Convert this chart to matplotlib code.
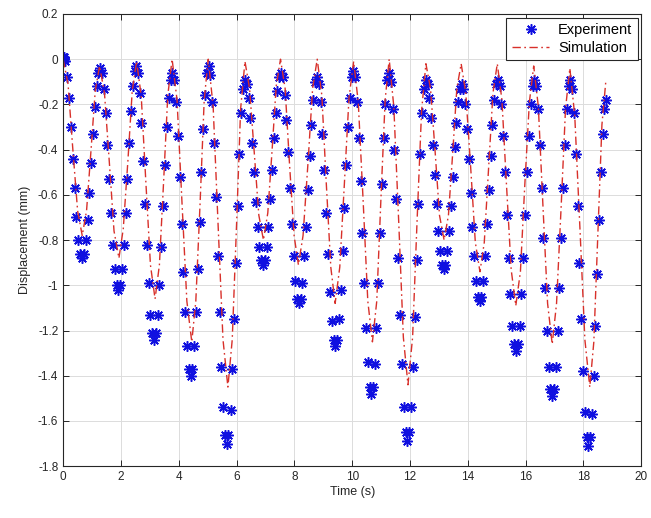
import matplotlib
matplotlib.use("Agg")
import matplotlib.pyplot as plt

plt.rcParams['font.family'] = ['Liberation Sans', 'DejaVu Sans']
plt.rcParams['axes.unicode_minus'] = False

# measured displacement (mm) vs time (s)
exp_t = [
    0.00, 0.02, 0.04, 0.07, 0.13, 0.20, 0.26, 0.33, 0.40, 0.46, 0.53, 0.59, 0.66,
    0.72, 0.78, 0.85, 0.91, 0.97, 1.03, 1.09, 1.16, 1.22, 1.28,
    1.34, 1.41, 1.47, 1.53, 1.60, 1.66, 1.72, 1.78, 1.85, 1.91,
    1.97, 2.03, 2.10, 2.16, 2.22, 2.28, 2.34, 2.41, 2.47, 2.53,
    2.59, 2.65, 2.71, 2.77, 2.84, 2.90, 2.96, 3.02, 3.08, 3.14,
    3.20, 3.27, 3.33, 3.40, 3.46, 3.52, 3.59, 3.65, 3.72, 3.78,
    3.84, 3.91, 3.97, 4.03, 4.10, 4.16, 4.22, 4.28, 4.35, 4.41,
    4.47, 4.53, 4.60, 4.66, 4.72, 4.78, 4.84, 4.91, 4.97, 5.03,
    5.09, 5.16, 5.22, 5.28, 5.35, 5.41, 5.47, 5.53, 5.60, 5.66,
    5.72, 5.79, 5.85, 5.91, 5.98, 6.04, 6.10, 6.16, 6.23, 6.29,
    6.35, 6.42, 6.48, 6.54, 6.61, 6.67, 6.73, 6.79, 6.86, 6.92,
    6.98, 7.04, 7.10, 7.16, 7.23, 7.29, 7.35, 7.41, 7.47, 7.53,
    7.59, 7.66, 7.72, 7.78, 7.85, 7.91, 7.97, 8.03, 8.10, 8.16,
    8.22, 8.28, 8.35, 8.41, 8.47, 8.53, 8.59, 8.66, 8.72, 8.78,
    8.84, 8.91, 8.97, 9.04, 9.10, 9.16, 9.23, 9.29, 9.36, 9.42,
    9.48, 9.54, 9.61, 9.67, 9.73, 9.79, 9.85, 9.92, 9.98, 10.04,
    10.10, 10.16, 10.23, 10.29, 10.35, 10.41, 10.47, 10.54, 10.60, 10.66,
    10.72, 10.78, 10.84, 10.90, 10.97, 11.03, 11.09, 11.15, 11.21, 11.27,
    11.33, 11.40, 11.46, 11.53, 11.59, 11.65, 11.72, 11.78, 11.85, 11.91,
    11.97, 12.04, 12.10, 12.17, 12.23, 12.29, 12.36, 12.42, 12.49, 12.55,
    12.61, 12.67, 12.73, 12.79, 12.86, 12.92, 12.98, 13.04, 13.10, 13.16,
    13.22, 13.29, 13.35, 13.41, 13.48, 13.54, 13.60, 13.66, 13.73, 13.79,
    13.85, 13.91, 13.98, 14.04, 14.10, 14.16, 14.22, 14.29, 14.35, 14.41,
    14.47, 14.54, 14.60, 14.66, 14.73, 14.79, 14.85, 14.91, 14.98, 15.04,
    15.10, 15.16, 15.23, 15.29, 15.35, 15.41, 15.47, 15.54, 15.60, 15.66,
    15.72, 15.79, 15.85, 15.92, 15.98, 16.04, 16.11, 16.17, 16.24, 16.30,
    16.36, 16.42, 16.49, 16.55, 16.61, 16.67, 16.73, 16.80, 16.86, 16.92,
    16.98, 17.05, 17.11, 17.17, 17.24, 17.30, 17.36, 17.42, 17.49, 17.55,
    17.61, 17.67, 17.74, 17.80, 17.86, 17.92, 17.98, 18.05, 18.11, 18.17,
    18.23, 18.29, 18.35, 18.41, 18.48, 18.54, 18.60, 18.66, 18.72, 18.78,
]
exp_y = [
    0.01, 0.00, 0.01, -0.01, -0.08, -0.17, -0.30, -0.44, -0.57, -0.70, -0.80, -0.86, -0.88,
    -0.86, -0.80, -0.71, -0.59, -0.46, -0.33, -0.21, -0.12, -0.06, -0.04,
    -0.06, -0.13, -0.24, -0.38, -0.53, -0.68, -0.82, -0.93, -1.00, -1.02,
    -1.00, -0.93, -0.82, -0.68, -0.53, -0.37, -0.23, -0.12, -0.05, -0.03,
    -0.06, -0.15, -0.28, -0.45, -0.64, -0.82, -0.99, -1.13, -1.21, -1.24,
    -1.21, -1.13, -1.00, -0.83, -0.65, -0.47, -0.30, -0.17, -0.09, -0.06,
    -0.09, -0.19, -0.34, -0.52, -0.73, -0.94, -1.12, -1.27, -1.37, -1.40,
    -1.37, -1.27, -1.12, -0.93, -0.72, -0.50, -0.31, -0.16, -0.06, -0.03,
    -0.07, -0.19, -0.37, -0.61, -0.87, -1.12, -1.36, -1.54, -1.66, -1.70,
    -1.66, -1.55, -1.37, -1.15, -0.90, -0.65, -0.42, -0.24, -0.13, -0.09,
    -0.11, -0.17, -0.26, -0.37, -0.50, -0.63, -0.74, -0.83, -0.89, -0.91,
    -0.89, -0.83, -0.74, -0.62, -0.49, -0.35, -0.24, -0.14, -0.08, -0.06,
    -0.08, -0.16, -0.27, -0.41, -0.57, -0.73, -0.87, -0.98, -1.06, -1.08,
    -1.06, -0.99, -0.87, -0.74, -0.58, -0.43, -0.29, -0.18, -0.10, -0.08,
    -0.11, -0.19, -0.33, -0.49, -0.68, -0.86, -1.03, -1.16, -1.24, -1.27,
    -1.24, -1.15, -1.02, -0.85, -0.66, -0.47, -0.30, -0.17, -0.08, -0.05,
    -0.08, -0.19, -0.35, -0.54, -0.77, -0.99, -1.19, -1.34, -1.45, -1.48,
    -1.45, -1.35, -1.19, -0.99, -0.77, -0.55, -0.35, -0.20, -0.09, -0.06,
    -0.10, -0.22, -0.40, -0.62, -0.88, -1.13, -1.35, -1.54, -1.65, -1.69,
    -1.65, -1.54, -1.36, -1.14, -0.89, -0.64, -0.42, -0.24, -0.13, -0.09,
    -0.11, -0.17, -0.26, -0.38, -0.51, -0.64, -0.76, -0.85, -0.91, -0.93,
    -0.91, -0.85, -0.76, -0.65, -0.52, -0.39, -0.28, -0.19, -0.13, -0.11,
    -0.13, -0.20, -0.31, -0.44, -0.59, -0.74, -0.87, -0.98, -1.05, -1.07,
    -1.05, -0.98, -0.87, -0.73, -0.58, -0.43, -0.29, -0.18, -0.11, -0.09,
    -0.12, -0.20, -0.34, -0.50, -0.69, -0.88, -1.04, -1.18, -1.26, -1.29,
    -1.26, -1.18, -1.04, -0.88, -0.69, -0.50, -0.34, -0.20, -0.12, -0.09,
    -0.12, -0.22, -0.38, -0.57, -0.79, -1.01, -1.20, -1.36, -1.46, -1.49,
    -1.46, -1.36, -1.20, -1.01, -0.79, -0.57, -0.38, -0.22, -0.12, -0.09,
    -0.13, -0.24, -0.42, -0.65, -0.90, -1.15, -1.38, -1.56, -1.67, -1.71,
    -1.67, -1.57, -1.40, -1.18, -0.95, -0.71, -0.50, -0.33, -0.22, -0.18,
]

# model response
sim_t = [
    0.00, 0.17, 0.33, 0.50, 0.66, 0.81, 0.96, 1.11, 1.26,
    1.43, 1.60, 1.76, 1.93, 2.08, 2.24, 2.39, 2.54,
    2.70, 2.86, 3.02, 3.18, 3.33, 3.48, 3.62, 3.77,
    3.94, 4.11, 4.28, 4.45, 4.59, 4.74, 4.88, 5.02,
    5.19, 5.36, 5.53, 5.70, 5.85, 6.00, 6.14, 6.29,
    6.45, 6.61, 6.77, 6.93, 7.08, 7.23, 7.37, 7.52,
    7.68, 7.83, 7.99, 8.14, 8.30, 8.47, 8.63, 8.79,
    8.95, 9.10, 9.26, 9.41, 9.57, 9.73, 9.89, 10.05,
    10.21, 10.38, 10.54, 10.70, 10.85, 10.99, 11.14, 11.28,
    11.44, 11.61, 11.77, 11.93, 12.09, 12.24, 12.40, 12.55,
    12.71, 12.87, 13.02, 13.18, 13.33, 13.48, 13.62, 13.77,
    13.93, 14.10, 14.26, 14.42, 14.57, 14.72, 14.87, 15.02,
    15.18, 15.34, 15.50, 15.66, 15.82, 15.97, 16.13, 16.28,
    16.44, 16.60, 16.76, 16.92, 17.07, 17.23, 17.38, 17.53,
    17.70, 17.88, 18.05, 18.22, 18.36, 18.50, 18.64, 18.78,
]
sim_y = [
    0.00, -0.11, -0.39, -0.67, -0.78, -0.67, -0.41, -0.14, -0.03,
    -0.15, -0.46, -0.76, -0.88, -0.75, -0.45, -0.14, -0.01,
    -0.16, -0.54, -0.91, -1.06, -0.91, -0.53, -0.16, 0.00,
    -0.18, -0.63, -1.07, -1.25, -1.07, -0.63, -0.18, 0.00,
    -0.21, -0.73, -1.24, -1.45, -1.24, -0.73, -0.22, -0.01,
    -0.13, -0.41, -0.69, -0.80, -0.68, -0.40, -0.12, 0.00,
    -0.13, -0.46, -0.78, -0.91, -0.78, -0.46, -0.13, 0.00,
    -0.16, -0.54, -0.92, -1.08, -0.92, -0.55, -0.17, -0.01,
    -0.19, -0.63, -1.07, -1.25, -1.07, -0.63, -0.18, 0.00,
    -0.21, -0.72, -1.23, -1.44, -1.23, -0.73, -0.23, -0.02,
    -0.13, -0.41, -0.69, -0.80, -0.69, -0.41, -0.13, -0.02,
    -0.15, -0.48, -0.81, -0.94, -0.81, -0.48, -0.15, -0.02,
    -0.18, -0.56, -0.93, -1.09, -0.94, -0.56, -0.19, -0.03,
    -0.21, -0.65, -1.08, -1.26, -1.08, -0.65, -0.22, -0.04,
    -0.25, -0.75, -1.24, -1.45, -1.25, -0.77, -0.29, -0.09,
]

fig, ax = plt.subplots(figsize=(6.51, 5.18), dpi=100)
fig.subplots_adjust(left=0.097, right=0.985, bottom=0.100, top=0.973)

# MATLAB-like asterisk: 8 spokes
ax.plot(exp_t, exp_y, linestyle='none', marker=(8, 2, 0), markersize=7.5,
        color='#1010e0', markeredgewidth=1.1, label='Experiment')
ax.plot(sim_t, sim_y, linestyle='-.', color='#d8302a', linewidth=1.0,
        dashes=(6, 2.5, 1.2, 2.5), label='Simulation')

ax.set_xlim(0, 20)
ax.set_ylim(-1.8, 0.2)
ax.set_xticks(range(0, 21, 2))
yt = [0.2, 0, -0.2, -0.4, -0.6, -0.8, -1, -1.2, -1.4, -1.6, -1.8]
ax.set_yticks(yt)
ax.set_yticklabels([('%g' % v) for v in yt])

ax.grid(True, color='#dcdcdc', linewidth=0.7)
ax.set_axisbelow(True)
ax.tick_params(direction='in', top=True, right=True, labelsize=8.5,
               colors='#262626', length=4, width=0.7)
for s in ax.spines.values():
    s.set_color('#262626')
    s.set_linewidth(0.8)

ax.set_xlabel('Time (s)', fontsize=9, color='#262626', labelpad=2)
ax.set_ylabel('Displacement (mm)', fontsize=9, color='#262626', labelpad=5)

leg = ax.legend(loc='upper right', fontsize=10.5, fancybox=False,
                edgecolor='#262626', framealpha=1, borderaxespad=0.25,
                handlelength=2.6, borderpad=0.35, labelspacing=0.3,
                handletextpad=0.6)
leg.get_frame().set_linewidth(0.8)

fig.savefig('out.png', dpi=100)
